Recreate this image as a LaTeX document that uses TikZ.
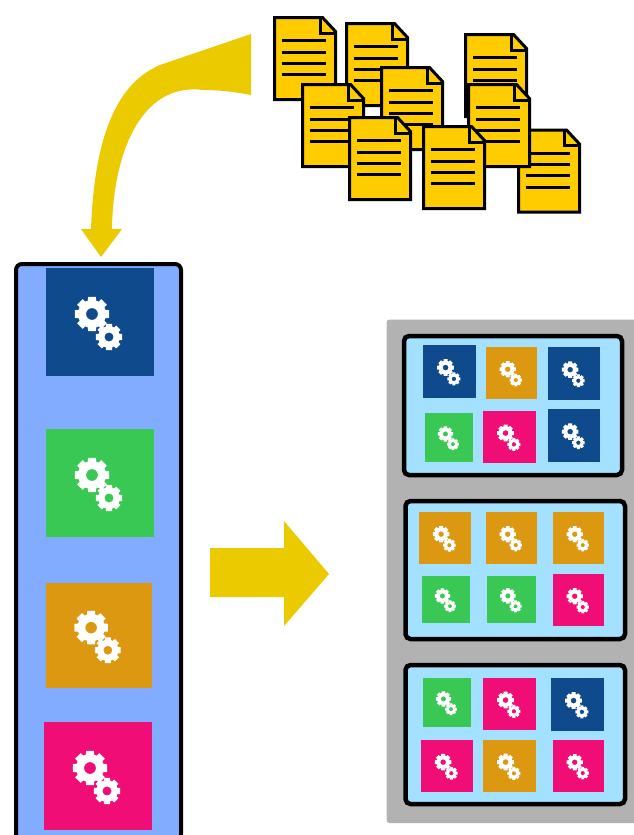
\documentclass[tikz,border=0pt]{standalone}
\usepackage{tikz}
\usepackage{xcolor}
\usetikzlibrary{calc}

\definecolor{navytile}{RGB}{15,75,140}
\definecolor{greentile}{RGB}{58,200,84}
\definecolor{orangetile}{RGB}{220,152,16}
\definecolor{pinktile}{RGB}{240,14,118}
\definecolor{panelblue}{RGB}{130,172,255}
\definecolor{rackblue}{RGB}{164,224,255}
\definecolor{rackgrey}{RGB}{178,178,178}
\definecolor{arrowyellow}{RGB}{236,202,0}
\definecolor{docyellow}{RGB}{255,204,0}

% one cog wheel: centre x, centre y, outer radius
\newcommand{\gearwheel}[3]{
  \begin{scope}[shift={(#1,#2)}]
    \fill[white, even odd rule] (-13:#3)
      foreach \a in {0,45,...,315} {
        -- (\a-13:#3) -- (\a+13:#3) -- (\a+17:0.8*#3) -- (\a+28:0.8*#3)
      } -- cycle
      (0,0) circle (0.34*#3);
  \end{scope}
}

% coloured tile with two cogs: colour, left, top, right, bottom
\newcommand{\gearstile}[5]{
  \fill[#1] (#2,#3) rectangle (#4,#5);
  \pgfmathsetmacro{\tsize}{(#4-#2)/108}
  \pgfmathsetmacro{\tcx}{(#2+#4)/2}
  \pgfmathsetmacro{\tcy}{(#3+#5)/2}
  \pgfmathsetmacro{\bigx}{\tcx-8*\tsize}
  \pgfmathsetmacro{\bigy}{\tcy-8*\tsize}
  \pgfmathsetmacro{\bigr}{17.5*\tsize}
  \pgfmathsetmacro{\smallx}{\tcx+9*\tsize}
  \pgfmathsetmacro{\smally}{\tcy+15*\tsize}
  \pgfmathsetmacro{\smallr}{13.5*\tsize}
  \gearwheel{\bigx}{\bigy}{\bigr}
  \gearwheel{\smallx}{\smally}{\smallr}
}

\tikzset{
  rack/.style={draw=black, line width=4.5pt, fill=rackblue, rounded corners=5pt},
  docicon/.pic={
    \draw[line width=3pt, fill=docyellow, line join=miter]
      (0,0) -- (48,0) -- (61,14) -- (61,82) -- (0,82) -- cycle;
    \draw[line width=3pt] (46,0) -- (46,15.5) -- (61,15.5);
    \foreach \j in {23,34.5,45.5,57}
      \draw[line width=3pt] (7,\j) -- +(44,0);
  }
}

\begin{document}
\begin{tikzpicture}[x=1pt, y=-1pt]
  \useasboundingbox (0,0) rectangle (634,835);

  % documents
  \foreach \x/\y in {274.5/17.5, 346.5/23.5, 465.5/34.5, 381.5/67.5, 518.5/130,
                     302.5/84.5, 468.5/84.5, 349.5/117.5, 423.5/126.5}
    \pic at (\x,\y) {docicon};

  % curved arrow
  \fill[arrowyellow] (251,34) -- (160,65)
    .. controls (125,80) and (95,120) .. (91,229)
    -- (81,229) -- (101,257) -- (122,229) -- (112,229)
    .. controls (113,155) and (140,82) .. (203,90)
    .. controls (220,90) and (235,92) .. (251,95) -- cycle;

  % left panel
  \draw[line width=4pt, fill=panelblue, rounded corners=6pt]
    (16,264) rectangle (181,840);
  \foreach \tilecolor/\xa/\ya/\xb/\yb in {navytile/46/268/154/376,
                                          greentile/46/429/154/537,
                                          orangetile/46/583/152/688,
                                          pinktile/44/722/152/830} {
    \gearstile{\tilecolor}{\xa}{\ya}{\xb}{\yb}
  }

  % straight arrow
  \fill[arrowyellow] (210,548) -- (284,548) -- (284,521) -- (329,574)
    -- (284,626) -- (284,597) -- (210,597) -- cycle;

  % racks
  \fill[rackgrey, rounded corners=3pt] (386.5,319.5) rectangle (650,823);
  \draw[rack] (404,336) rectangle (622,475);
  \draw[rack] (405.5,501) rectangle (625,639);
  \draw[rack] (405.5,665) rectangle (625,804);

  \foreach \tilecolor/\xa/\ya/\xb/\yb in {navytile/423/345/476/398,
                                          orangetile/486/347/537/399,
                                          navytile/548/347/600/400,
                                          greentile/425/413/473/462,
                                          pinktile/483/411/536/463,
                                          navytile/548/409/600/462,
                                          orangetile/419/512/471/564,
                                          orangetile/486/512/537/564,
                                          orangetile/553/512/604/564,
                                          greentile/422/576/470/623,
                                          greentile/487/576/536/623,
                                          pinktile/553/574/604/626,
                                          greentile/423/678/471/727,
                                          pinktile/483/678/536/730,
                                          navytile/551/678/604/731,
                                          pinktile/421/740/473/792,
                                          orangetile/483/740/536/792,
                                          pinktile/553/740/604/792} {
    \gearstile{\tilecolor}{\xa}{\ya}{\xb}{\yb}
  }
\end{tikzpicture}
\end{document}
